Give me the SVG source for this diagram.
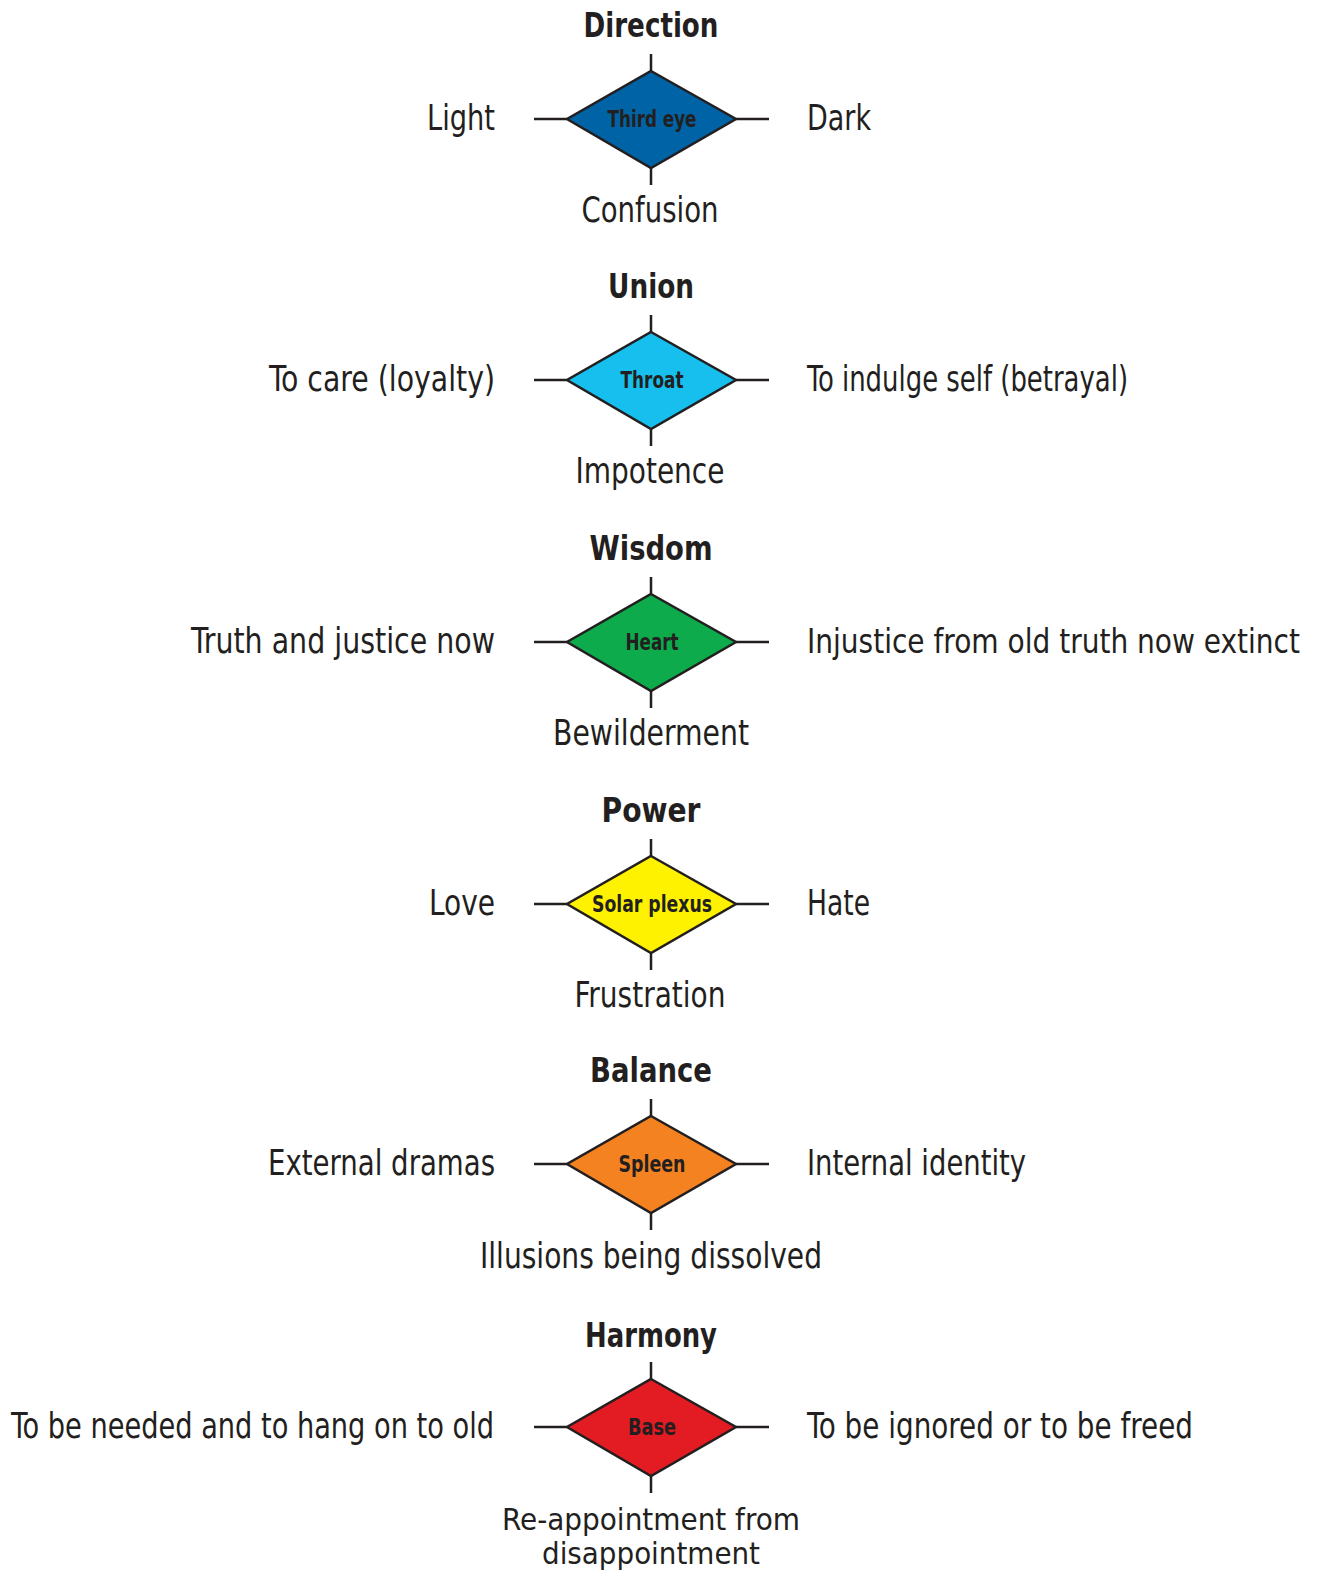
<svg xmlns="http://www.w3.org/2000/svg" width="1319" height="1574" viewBox="0 0 1319 1574">
<style>
text{font-family:"Liberation Sans Narrow","DejaVu Sans Condensed","Liberation Sans",sans-serif;fill:#231f20;}
.t{font-size:34px;font-weight:bold;text-anchor:middle;}
.c{font-size:23px;font-weight:bold;text-anchor:middle;}
.l{font-size:35px;text-anchor:end;}
.r{font-size:35px;text-anchor:start;}
.b{font-size:35px;text-anchor:middle;}
.s{font-size:31px;text-anchor:middle;}
.d{stroke:#231f20;stroke-width:2.5;stroke-linejoin:miter;}
.k{stroke:#231f20;stroke-width:2.5;fill:none;}
</style>
<rect width="1319" height="1574" fill="#ffffff"/>
<g id="connectors">
<path class="k" d="M651 54V71M651 168V185M534 119H567M736 119H769"/>
<path class="k" d="M651 315V332M651 429V446M534 380H567M736 380H769"/>
<path class="k" d="M651 577V594M651 691V708M534 642H567M736 642H769"/>
<path class="k" d="M651 839V856M651 953V970M534 904H567M736 904H769"/>
<path class="k" d="M651 1099V1116M651 1213V1230M534 1164H567M736 1164H769"/>
<path class="k" d="M651 1362V1379M651 1476V1493M534 1427H567M736 1427H769"/>
</g>
<g id="third-eye">
<text class="t" x="651" y="37" textLength="135" lengthAdjust="spacingAndGlyphs">Direction</text>
<polygon class="d" fill="#0063a6" points="651,71 736,119 651,168 567,119"/>
<text class="c" x="652" y="127" textLength="89" lengthAdjust="spacingAndGlyphs">Third eye</text>
<text class="l" x="495" y="130" textLength="68" lengthAdjust="spacingAndGlyphs">Light</text>
<text class="r" x="807" y="130" textLength="64" lengthAdjust="spacingAndGlyphs">Dark</text>
<text class="b" x="650" y="222" textLength="137" lengthAdjust="spacingAndGlyphs">Confusion</text>
</g>
<g id="throat">
<text class="t" x="651" y="298" textLength="86" lengthAdjust="spacingAndGlyphs">Union</text>
<polygon class="d" fill="#17bfef" points="651,332 736,380 651,429 567,380"/>
<text class="c" x="652" y="388" textLength="63" lengthAdjust="spacingAndGlyphs">Throat</text>
<text class="l" x="495" y="391" textLength="226" lengthAdjust="spacingAndGlyphs">To care (loyalty)</text>
<text class="r" x="807" y="391" textLength="321" lengthAdjust="spacingAndGlyphs">To indulge self (betrayal)</text>
<text class="b" x="650" y="483" textLength="149" lengthAdjust="spacingAndGlyphs">Impotence</text>
</g>
<g id="heart">
<text class="t" x="651" y="560" textLength="123" lengthAdjust="spacingAndGlyphs">Wisdom</text>
<polygon class="d" fill="#0dab4b" points="651,594 736,642 651,691 567,642"/>
<text class="c" x="652" y="650" textLength="53" lengthAdjust="spacingAndGlyphs">Heart</text>
<text class="l" x="495" y="653" textLength="304" lengthAdjust="spacingAndGlyphs">Truth and justice now</text>
<text class="r" x="807" y="653" style="font-size:33px" textLength="493" lengthAdjust="spacingAndGlyphs">Injustice from old truth now extinct</text>
<text class="b" x="651" y="745" textLength="196" lengthAdjust="spacingAndGlyphs">Bewilderment</text>
</g>
<g id="solar-plexus">
<text class="t" x="651" y="822" textLength="99" lengthAdjust="spacingAndGlyphs">Power</text>
<polygon class="d" fill="#fff200" points="651,856 736,904 651,953 567,904"/>
<text class="c" x="652" y="912" textLength="120" lengthAdjust="spacingAndGlyphs">Solar plexus</text>
<text class="l" x="495" y="915" textLength="66" lengthAdjust="spacingAndGlyphs">Love</text>
<text class="r" x="807" y="915" textLength="63" lengthAdjust="spacingAndGlyphs">Hate</text>
<text class="b" x="650" y="1007" textLength="151" lengthAdjust="spacingAndGlyphs">Frustration</text>
</g>
<g id="spleen">
<text class="t" x="651" y="1082" textLength="122" lengthAdjust="spacingAndGlyphs">Balance</text>
<polygon class="d" fill="#f58220" points="651,1116 736,1164 651,1213 567,1164"/>
<text class="c" x="652" y="1172" textLength="67" lengthAdjust="spacingAndGlyphs">Spleen</text>
<text class="l" x="495" y="1175" textLength="227" lengthAdjust="spacingAndGlyphs">External dramas</text>
<text class="r" x="807" y="1175" textLength="219" lengthAdjust="spacingAndGlyphs">Internal identity</text>
<text class="b" x="651" y="1268" textLength="342" lengthAdjust="spacingAndGlyphs">Illusions being dissolved</text>
</g>
<g id="base">
<text class="t" x="651" y="1347" textLength="132" lengthAdjust="spacingAndGlyphs">Harmony</text>
<polygon class="d" fill="#e31b23" points="651,1379 736,1427 651,1476 567,1427"/>
<text class="c" x="652" y="1435" textLength="48" lengthAdjust="spacingAndGlyphs">Base</text>
<text class="l" x="494" y="1438" textLength="483" lengthAdjust="spacingAndGlyphs">To be needed and to hang on to old</text>
<text class="r" x="807" y="1438" textLength="386" lengthAdjust="spacingAndGlyphs">To be ignored or to be freed</text>
<text class="s" x="651" y="1530" textLength="298" lengthAdjust="spacingAndGlyphs">Re-appointment from</text>
<text class="s" x="651" y="1564" textLength="218" lengthAdjust="spacingAndGlyphs">disappointment</text>
</g>
</svg>
